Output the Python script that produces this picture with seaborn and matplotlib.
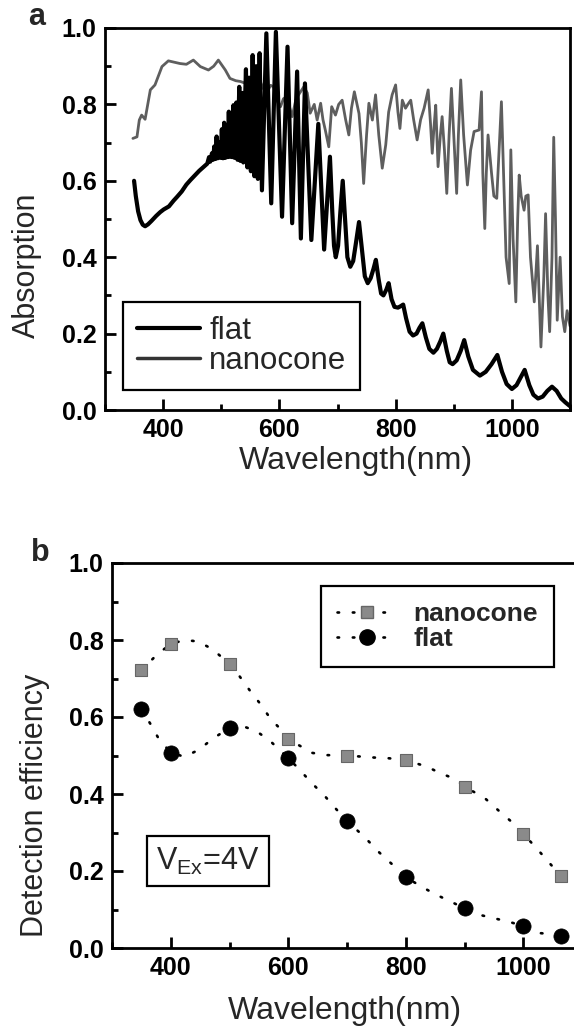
import matplotlib
matplotlib.use("Agg")
import matplotlib.pyplot as plt
import seaborn as sns
import numpy as np
from matplotlib.lines import Line2D
from matplotlib.ticker import MultipleLocator

# ---------------- Panel a: absorption spectra ----------------
flat_wl = [350, 353, 357, 361, 365, 369, 374, 380, 388, 395, 401, 410, 418, 424, 432, 440, 447, 455, 462, 470, 476,
           479, 481, 484, 486, 488, 490, 492, 494, 497, 499, 501, 503, 505, 507, 509, 511, 513, 515, 517, 519,
           521, 523, 526, 528, 531, 533, 536, 538, 542.5, 545, 548, 551, 554, 557, 560, 563, 566, 570, 577.6,
           586, 594, 604.6, 614, 622, 630.5, 637, 644, 655, 667, 677,
           687, 691, 694, 697, 701, 705, 709, 713, 717, 722, 727, 732, 737, 742, 747, 752, 757, 762, 766, 771,
           775, 779, 784, 788, 793, 798, 804, 809, 813, 818, 824, 830, 836, 841, 846, 852, 858, 865, 871, 877,
           882, 888, 893, 898, 905, 912, 918, 925, 933, 945, 955, 965, 975, 983, 991, 1000, 1008, 1015, 1022,
           1030, 1037, 1045, 1053, 1061, 1069, 1077, 1085, 1092, 1100]
flat_abs = [0.600, 0.560, 0.520, 0.497, 0.485, 0.481, 0.486, 0.495, 0.508, 0.518, 0.525, 0.533, 0.548, 0.558, 0.572,
            0.590, 0.602, 0.615, 0.626, 0.637, 0.645,
            0.662, 0.650, 0.672, 0.655, 0.690, 0.657, 0.716, 0.659, 0.700, 0.660, 0.735, 0.659, 0.752, 0.660,
            0.745, 0.662, 0.781, 0.663, 0.770, 0.662, 0.798, 0.660, 0.805, 0.655, 0.846, 0.652, 0.830, 0.648,
            0.892, 0.635, 0.870, 0.625, 0.929, 0.612, 0.900, 0.605, 0.934, 0.575, 0.986,
            0.541, 0.990, 0.506, 0.951, 0.489, 0.886, 0.449, 0.855, 0.445, 0.749, 0.420,
            0.663, 0.520, 0.430, 0.400, 0.430, 0.520, 0.600, 0.500, 0.400, 0.375, 0.390, 0.440, 0.492, 0.420,
            0.350, 0.332, 0.345, 0.370, 0.393, 0.340, 0.305, 0.300, 0.315, 0.332, 0.290, 0.270, 0.268, 0.272,
            0.276, 0.240, 0.205, 0.195, 0.200, 0.215, 0.227, 0.190, 0.160, 0.150, 0.160, 0.180, 0.200, 0.155,
            0.125, 0.120, 0.130, 0.155, 0.183, 0.140, 0.105, 0.090, 0.100, 0.120, 0.144, 0.100, 0.068, 0.055,
            0.065, 0.085, 0.105, 0.065, 0.040, 0.030, 0.035, 0.050, 0.061, 0.050, 0.030, 0.020, 0.010]

nano_wl = [348, 355, 359, 363, 369, 378, 386, 398, 409, 420, 429, 440, 452, 464, 478, 487, 495, 507, 515, 525,
           533, 542, 550, 558.6, 563, 567, 573, 579, 585, 590, 596, 602, 607, 613, 618, 622, 628, 633, 642, 648,
           653, 660, 665, 671, 675, 679, 685, 690, 696.5, 702, 708, 714, 719.5, 724, 729, 737, 741, 745, 750,
           754, 760, 765.5, 771, 777, 783, 788, 794, 800, 804, 807.4, 811.5, 817, 821, 826, 831, 837, 843, 849,
           856, 860, 863, 866, 869, 873, 877, 880, 884, 888, 892, 896, 900, 905, 908, 912, 917, 923.5, 929, 935,
           943.6, 947.7, 950, 953.4, 956, 959, 965, 969, 974, 978, 982, 986, 990, 995.4, 998.2, 1002, 1006.8,
           1010, 1012.6, 1016, 1021, 1024, 1028, 1032, 1038.5, 1044, 1050, 1055, 1058, 1062, 1065, 1069, 1072,
           1075, 1078, 1083, 1087, 1091, 1095, 1100]
nano_abs = [0.711, 0.715, 0.759, 0.772, 0.761, 0.838, 0.851, 0.899, 0.914, 0.910, 0.907, 0.905, 0.916, 0.899,
            0.890, 0.900, 0.916, 0.890, 0.868, 0.862, 0.860, 0.855, 0.838, 0.820, 0.850, 0.860, 0.840, 0.833,
            0.850, 0.846, 0.810, 0.794, 0.815, 0.820, 0.790, 0.768, 0.810, 0.825, 0.846, 0.830, 0.777, 0.800,
            0.759, 0.803, 0.760, 0.733, 0.689, 0.794, 0.772, 0.800, 0.811, 0.760, 0.720, 0.790, 0.833, 0.776,
            0.700, 0.593, 0.720, 0.803, 0.759, 0.825, 0.720, 0.633, 0.694, 0.780, 0.825, 0.851, 0.780, 0.737,
            0.811, 0.790, 0.800, 0.811, 0.760, 0.707, 0.760, 0.790, 0.838, 0.750, 0.672, 0.740, 0.798, 0.637,
            0.720, 0.768, 0.680, 0.567, 0.720, 0.842, 0.720, 0.567, 0.720, 0.864, 0.720, 0.589, 0.680, 0.729,
            0.733, 0.833, 0.620, 0.475, 0.620, 0.720, 0.620, 0.560, 0.554, 0.680, 0.807, 0.600, 0.400, 0.331,
            0.681, 0.450, 0.283, 0.500, 0.615, 0.560, 0.523, 0.560, 0.563, 0.400, 0.283, 0.430, 0.165, 0.350,
            0.514, 0.300, 0.205, 0.400, 0.714, 0.500, 0.235, 0.400, 0.244, 0.205, 0.260, 0.220]

# ---------------- Panel b: detection efficiency ----------------
det_wl = [350, 400, 500, 600, 700, 800, 900, 1000, 1064]
nano_eff = [0.722, 0.790, 0.738, 0.543, 0.500, 0.488, 0.419, 0.297, 0.187]
flat_eff = [0.620, 0.507, 0.572, 0.493, 0.330, 0.184, 0.103, 0.057, 0.031]

# smooth guide curves (dotted)
nano_fit_wl = [350, 376, 400, 424, 447, 471, 500, 517, 535, 553, 570, 591, 600, 640, 666, 700, 742, 770, 800,
               836, 859, 884, 900, 934, 958, 983, 1000, 1029, 1064]
nano_fit = [0.722, 0.761, 0.790, 0.800, 0.796, 0.776, 0.738, 0.706, 0.668, 0.633, 0.595, 0.562, 0.543, 0.507,
            0.501, 0.500, 0.495, 0.493, 0.488, 0.471, 0.454, 0.439, 0.419, 0.390, 0.357, 0.324, 0.297, 0.248, 0.187]
flat_fit_wl = [350, 365, 379, 400, 423, 447, 471, 500, 521, 545, 569, 600, 617, 639, 662, 682, 700, 730, 755,
               780, 800, 826, 851, 876, 900, 926, 951, 976, 1000, 1026, 1048, 1064]
flat_fit = [0.620, 0.583, 0.545, 0.507, 0.497, 0.514, 0.543, 0.572, 0.577, 0.564, 0.538, 0.493, 0.467, 0.430,
            0.395, 0.360, 0.330, 0.288, 0.248, 0.213, 0.184, 0.160, 0.139, 0.121, 0.103, 0.086, 0.077, 0.068,
            0.057, 0.039, 0.036, 0.031]

# ---------------- style ----------------
sns.set_theme(style="ticks")
plt.rcParams["font.family"] = ["Liberation Sans", "DejaVu Sans"]
plt.rcParams["mathtext.fontset"] = "custom"
plt.rcParams["mathtext.rm"] = "Liberation Sans"
plt.rcParams["mathtext.it"] = "Liberation Sans:italic"
plt.rcParams["mathtext.bf"] = "Liberation Sans:bold"

W, H = 574, 1035
fig = plt.figure(figsize=(W / 100, H / 100), dpi=100)


def rect(l, t, r, b):
    return [l / W, 1 - b / H, (r - l) / W, (b - t) / H]


axA = fig.add_axes(rect(105, 28, 570, 410))
axB = fig.add_axes(rect(112, 563, 582, 948))


def style(ax):
    ax.set_xlim(300, 1100)
    ax.set_ylim(0, 1.0)
    for s in ax.spines.values():
        s.set_linewidth(2.0)
        s.set_color("black")
    ax.xaxis.set_major_locator(MultipleLocator(200))
    ax.xaxis.set_minor_locator(MultipleLocator(100))
    ax.yaxis.set_major_locator(MultipleLocator(0.2))
    ax.yaxis.set_minor_locator(MultipleLocator(0.1))
    ax.tick_params(which="both", direction="in", top=False, right=False, width=2.0, color="black")
    ax.tick_params(which="major", length=8, labelsize=18, pad=6, labelcolor="black")
    ax.tick_params(which="minor", length=4.5)
    ax.set_yticks([0, 0.2, 0.4, 0.6, 0.8, 1.0])
    ax.set_yticklabels(["0.0", "0.2", "0.4", "0.6", "0.8", "1.0"], fontweight="bold")
    ax.set_xticks([400, 600, 800, 1000])
    ax.set_xticklabels(["400", "600", "800", "1000"], fontweight="bold")


# ---- panel a ----
sns.lineplot(x=nano_wl, y=nano_abs, ax=axA, color="#5e5e5e", lw=2.0, estimator=None, sort=False, zorder=2)
sns.lineplot(x=flat_wl, y=flat_abs, ax=axA, color="black", lw=3.0, estimator=None, sort=False, zorder=3,
             solid_joinstyle="round")
style(axA)
axA.set_xlabel("Wavelength(nm)", fontsize=23)
axA.set_ylabel("Absorption", fontsize=22)
axA.xaxis.set_label_coords(0.54, -0.095)
axA.yaxis.set_label_coords(-0.135, 0.38)
hA = [Line2D([], [], color="black", lw=3.0), Line2D([], [], color="#333333", lw=2.5)]
legA = axA.legend(hA, ["flat", "nanocone"], loc="upper left", bbox_to_anchor=(0.039, 0.283), fontsize=22.5,
                  frameon=True, fancybox=False, edgecolor="black", framealpha=1, handlelength=2.0,
                  handletextpad=0.3, borderpad=0.45, labelspacing=0.0, borderaxespad=0)
legA.get_frame().set_linewidth(1.6)

# ---- panel b ----
dot = (0, (0.6, 5.2))
sns.lineplot(x=nano_fit_wl, y=nano_fit, ax=axB, color="black", lw=1.9, linestyle=dot, dash_capstyle="round",
             estimator=None, sort=False, zorder=2)
sns.lineplot(x=flat_fit_wl, y=flat_fit, ax=axB, color="black", lw=1.9, linestyle=dot, dash_capstyle="round",
             estimator=None, sort=False, zorder=2)
sns.scatterplot(x=det_wl, y=nano_eff, ax=axB, marker="s", s=85, color="#8a8a8a", edgecolor="#666666",
                linewidth=0.8, zorder=4)
sns.scatterplot(x=det_wl, y=flat_eff, ax=axB, marker="o", s=120, color="black", edgecolor="black",
                linewidth=0.5, zorder=4)
style(axB)
axB.set_xlabel("Wavelength(nm)", fontsize=23)
axB.set_ylabel("Detection efficiency", fontsize=22)
axB.xaxis.set_label_coords(0.496, -0.125)
axB.yaxis.set_label_coords(-0.132, 0.37)
hB = [Line2D([], [], color="black", lw=1.9, linestyle=dot, dash_capstyle="round", marker="s", markersize=9,
             markerfacecolor="#8a8a8a", markeredgecolor="#666666"),
      Line2D([], [], color="black", lw=1.9, linestyle=dot, dash_capstyle="round", marker="o", markersize=11,
             markerfacecolor="black", markeredgecolor="black")]
legB = axB.legend(hB, ["nanocone", "flat"], loc="upper left", bbox_to_anchor=(0.445, 0.940),
                  prop={"size": 19, "weight": "bold"}, frameon=True, fancybox=False, edgecolor="black",
                  framealpha=1, handlelength=2.3, handletextpad=0.6, borderpad=0.6, labelspacing=0.05,
                  borderaxespad=0)
legB.get_frame().set_linewidth(1.6)
axB.text(0.204, 0.226, r"V$_{\mathrm{Ex}}$=4V", transform=axB.transAxes, fontsize=22, ha="center", va="center",
         bbox=dict(boxstyle="square,pad=0.3", fc="white", ec="black", lw=1.6))

fig.text(37 / W, 1 - 17 / H, "a", fontsize=22, fontweight="bold", ha="center", va="center")
fig.text(40 / W, 1 - 553 / H, "b", fontsize=22, fontweight="bold", ha="center", va="center")

fig.savefig("out.png", dpi=100)
